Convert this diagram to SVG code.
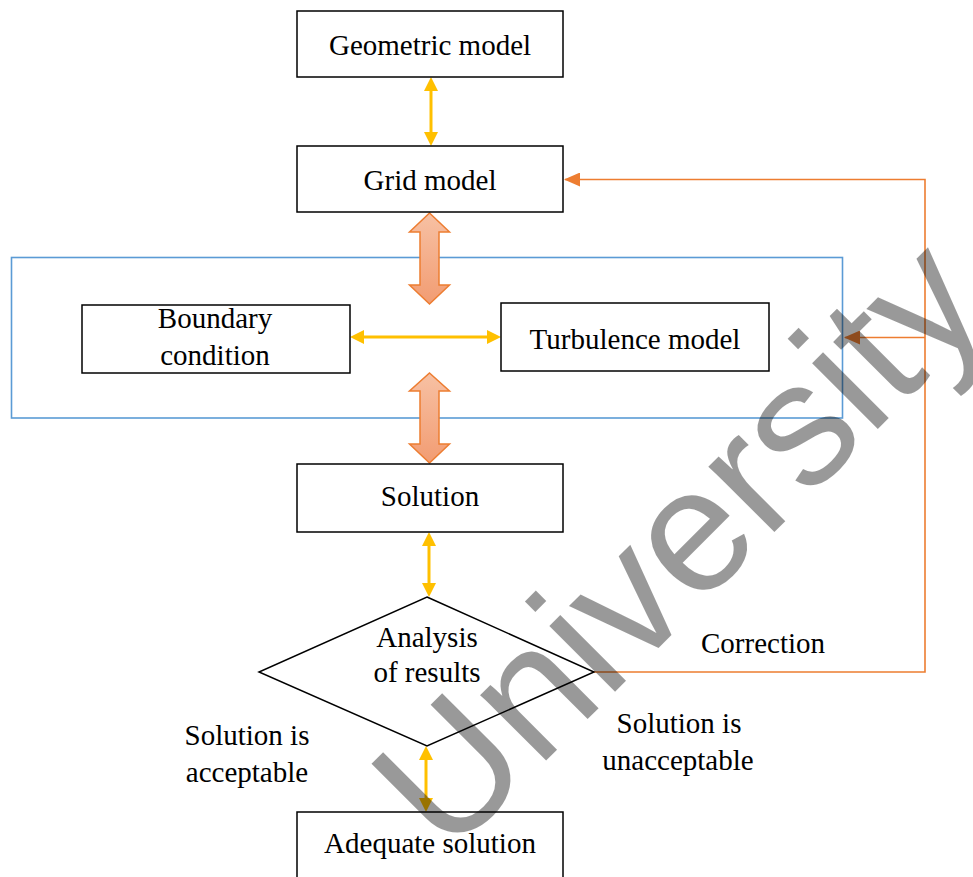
<svg xmlns="http://www.w3.org/2000/svg" width="973" height="877" viewBox="0 0 973 877">
<style>
.box{fill:#fff;stroke:#000;stroke-width:1.5}
.lbl{font-family:"Liberation Serif","Times New Roman",serif;font-size:29px;fill:#000;text-anchor:middle}
.yl{stroke:#FFC000;stroke-width:3;fill:none;marker-start:url(#ya);marker-end:url(#ya)}
.ol{stroke:#ED7D31;stroke-width:1.6;fill:none}
.blk{fill:url(#bg);stroke:#ED7D31;stroke-width:1.5;stroke-linejoin:miter}
.wm{font-family:"Liberation Sans",Arial,sans-serif;font-size:176px;fill:#000;fill-opacity:0.4}
</style>
<defs>
<linearGradient id="bg" x1="0" y1="0" x2="0" y2="1">
<stop offset="0" stop-color="#F7C1A4"/>
<stop offset="1" stop-color="#F29C72"/>
</linearGradient>
<marker id="ya" viewBox="0 0 14 14" refX="9" refY="7" markerWidth="14" markerHeight="14" markerUnits="userSpaceOnUse" orient="auto-start-reverse">
<path d="M0,0 L14,7 L0,14 Z" fill="#FFC000"/>
</marker>
<marker id="oa" viewBox="0 0 16 14" refX="15" refY="7" markerWidth="16" markerHeight="14" markerUnits="userSpaceOnUse" orient="auto">
<path d="M0,0 L16,7 L0,14 Z" fill="#ED7D31"/>
</marker>
</defs>
<rect width="973" height="877" fill="#fff"/>
<rect id="group-frame" x="11.5" y="257.5" width="831" height="160.5" fill="none" stroke="#5B9BD5" stroke-width="1.6"/>
<g id="connectors">
<line class="yl" x1="431" y1="82" x2="431" y2="141"/>
<line class="yl" x1="355" y1="337" x2="496" y2="337"/>
<line class="yl" x1="429" y1="537" x2="429" y2="592"/>
<line class="yl" x1="426" y1="751" x2="426" y2="807"/>
<path class="blk" d="M429.5,213 L449.5,232 L439,232 L439,285 L449.5,285 L429.5,304 L409.5,285 L420,285 L420,232 L409.5,232 Z"/>
<path class="blk" d="M429.5,373 L449.5,391 L439,391 L439,444 L449.5,444 L429.5,463 L409.5,444 L420,444 L420,391 L409.5,391 Z"/>
<polyline class="ol" points="594,672 925,672 925,179.5 565,179.5" marker-end="url(#oa)"/>
<line class="ol" x1="925" y1="337.5" x2="845" y2="337.5" marker-end="url(#oa)"/>
</g>
<g id="geometric-model"><rect class="box" x="297" y="11" width="266" height="66"/><text class="lbl" x="430" y="55">Geometric model</text></g>
<g id="grid-model"><rect class="box" x="297" y="146" width="266" height="66"/><text class="lbl" x="430" y="190">Grid model</text></g>
<g id="boundary-condition"><rect class="box" x="82" y="305" width="268" height="68"/><text class="lbl" x="215" y="328">Boundary</text><text class="lbl" x="215" y="365">condition</text></g>
<g id="turbulence-model"><rect class="box" x="501" y="303" width="268" height="68"/><text class="lbl" x="635" y="349">Turbulence model</text></g>
<g id="solution"><rect class="box" x="297" y="464" width="266" height="68"/><text class="lbl" x="430" y="506">Solution</text></g>
<g id="analysis"><path class="box" d="M427,597 L594,672 L427,746 L259,672 Z"/><text class="lbl" x="427" y="647">Analysis</text><text class="lbl" x="427" y="682">of results</text></g>
<g id="adequate-solution"><rect class="box" x="297" y="812" width="266" height="80"/><text class="lbl" x="430" y="853">Adequate solution</text></g>
<g id="labels">
<text class="lbl" x="763" y="653">Correction</text>
<text class="lbl" x="679" y="733">Solution is</text>
<text class="lbl" x="678" y="770">unacceptable</text>
<text class="lbl" x="247" y="745">Solution is</text>
<text class="lbl" x="247" y="782">acceptable</text>
</g>
<text class="wm" x="447.6" y="859" transform="rotate(-45 447.6 859)">University</text>
</svg>
